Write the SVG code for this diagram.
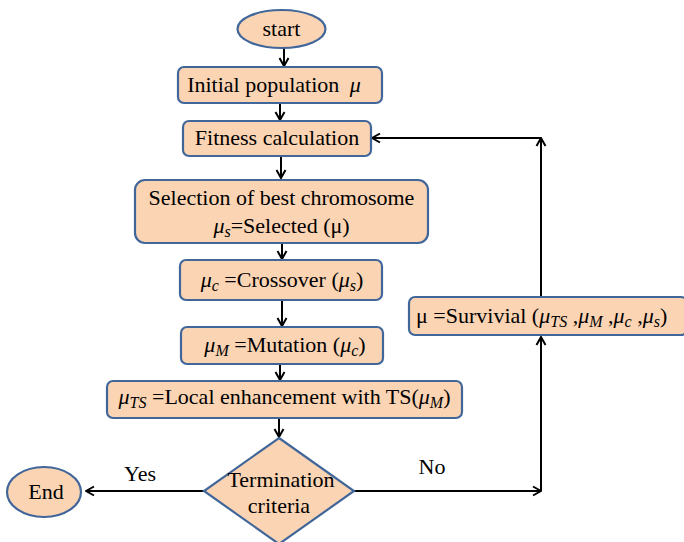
<svg xmlns="http://www.w3.org/2000/svg" width="684" height="542" viewBox="0 0 684 542">
<defs>
<style>
.n{fill:#FBD4B4;stroke:#41679A;stroke-width:2.2}
text{font-family:"Liberation Serif","Times New Roman",serif;font-size:22px;fill:#000}
.m{font-style:italic}
.s{font-style:italic;font-size:16px}
.c{fill:none;stroke:#000;stroke-width:2}
</style>
<marker id="a" viewBox="0 0 12 12" refX="11" refY="6" markerWidth="12" markerHeight="12" markerUnits="userSpaceOnUse" orient="auto">
<path d="M3,1.5 L11,6 L3,10.5" fill="none" stroke="#000" stroke-width="2"/>
</marker>
</defs>
<rect width="684" height="542" fill="#fff"/>
<g id="connectors">
<line class="c" x1="284" y1="48" x2="284" y2="66" marker-end="url(#a)"/>
<line class="c" x1="280" y1="103" x2="280" y2="120" marker-end="url(#a)"/>
<line class="c" x1="281" y1="157" x2="281" y2="178" marker-end="url(#a)"/>
<line class="c" x1="282" y1="243" x2="282" y2="259" marker-end="url(#a)"/>
<line class="c" x1="282" y1="301" x2="282" y2="326" marker-end="url(#a)"/>
<line class="c" x1="280" y1="364" x2="280" y2="380" marker-end="url(#a)"/>
<line class="c" x1="279" y1="418" x2="279" y2="437" marker-end="url(#a)"/>
<line class="c" x1="204" y1="491" x2="86" y2="491" marker-end="url(#a)"/>
<line class="c" x1="354" y1="491" x2="541" y2="491" marker-end="url(#a)"/>
<line class="c" x1="541" y1="491" x2="541" y2="337" marker-end="url(#a)"/>
<line class="c" x1="541" y1="297" x2="541" y2="138" marker-end="url(#a)"/>
<line class="c" x1="541" y1="138" x2="372" y2="138" marker-end="url(#a)"/>
<text x="140" y="481" text-anchor="middle">Yes</text>
<text x="432" y="474" text-anchor="middle">No</text>
</g>
<g id="start">
<ellipse class="n" cx="281.5" cy="29" rx="44" ry="19"/>
<text x="281.5" y="36" text-anchor="middle">start</text>
</g>
<g id="init">
<rect class="n" x="178" y="67" width="204" height="36" rx="6"/>
<text x="274" y="92" text-anchor="middle">Initial population <tspan class="m" dx="5">μ</tspan></text>
</g>
<g id="fitness">
<rect class="n" x="183" y="121" width="188" height="35" rx="6"/>
<text x="277" y="145" text-anchor="middle">Fitness calculation</text>
</g>
<g id="selection">
<rect class="n" x="135" y="180" width="293" height="63" rx="10"/>
<text x="281.5" y="205" text-anchor="middle">Selection of best chromosome</text>
<text x="281.5" y="233" text-anchor="middle"><tspan class="m">μ</tspan><tspan class="s" dy="4">s</tspan><tspan dy="-4">=Selected (μ)</tspan></text>
</g>
<g id="crossover">
<rect class="n" x="180" y="260" width="202" height="40" rx="6"/>
<text x="282" y="287" text-anchor="middle"><tspan class="m">μ</tspan><tspan class="s" dy="4">c</tspan><tspan dy="-4"> =Crossover (</tspan><tspan class="m">μ</tspan><tspan class="s" dy="4">s</tspan><tspan dy="-4">)</tspan></text>
</g>
<g id="mutation">
<rect class="n" x="181" y="327" width="202" height="37" rx="6"/>
<text x="285" y="352" text-anchor="middle"><tspan class="m">μ</tspan><tspan class="s" dy="4">M</tspan><tspan dy="-4"> =Mutation (</tspan><tspan class="m">μ</tspan><tspan class="s" dy="4">c</tspan><tspan dy="-4">)</tspan></text>
</g>
<g id="local">
<rect class="n" x="107" y="381" width="355" height="37" rx="6"/>
<text x="284.5" y="404" text-anchor="middle"><tspan class="m">μ</tspan><tspan class="s" dy="4">TS</tspan><tspan dy="-4"> =Local enhancement with TS(</tspan><tspan class="m">μ</tspan><tspan class="s" dy="4">M</tspan><tspan dy="-4">)</tspan></text>
</g>
<g id="termination">
<polygon class="n" points="279,438 354,491 279,544 204,491"/>
<text x="281" y="487" text-anchor="middle">Termination</text>
<text x="279" y="513" text-anchor="middle">criteria</text>
</g>
<g id="end">
<ellipse class="n" cx="44" cy="492" rx="37" ry="25"/>
<text x="46" y="499" text-anchor="middle">End</text>
</g>
<g id="survival">
<rect class="n" x="409" y="297" width="278" height="38" rx="6"/>
<text x="416" y="323">μ =Survivial (<tspan class="m">μ</tspan><tspan class="s" dy="4">TS</tspan><tspan dy="-4"> ,</tspan><tspan class="m">μ</tspan><tspan class="s" dy="4">M</tspan><tspan dy="-4"> ,</tspan><tspan class="m">μ</tspan><tspan class="s" dy="4">c</tspan><tspan dy="-4"> ,</tspan><tspan class="m">μ</tspan><tspan class="s" dy="4">s</tspan><tspan dy="-4">)</tspan></text>
</g>
</svg>
